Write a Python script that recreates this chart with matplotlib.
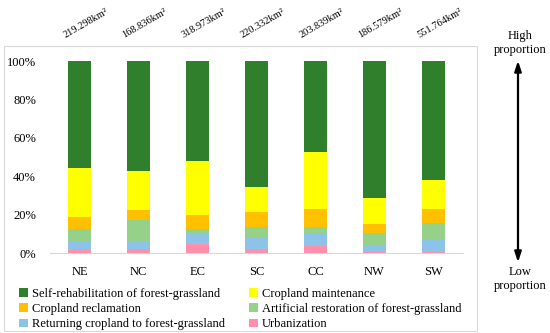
import matplotlib
matplotlib.use("Agg")
import matplotlib.pyplot as plt
from matplotlib.patches import Rectangle, FancyArrowPatch
import numpy as np

plt.rcParams['font.family'] = ['Liberation Serif', 'DejaVu Serif']

regions = ["NE", "NC", "EC", "SC", "CC", "NW", "SW"]
areas = ["219.298km²", "168.836km²", "318.973km²", "220.332km²", "203.839km²", "186.579km²", "551.764km²"]

urbanization = [1.6, 2.2, 5.0, 2.1, 3.8, 0.8, 0.8]
returning = [4.8, 4.0, 5.0, 6.5, 6.6, 3.5, 6.0]
artificial = [6.2, 11.0, 2.6, 5.1, 3.3, 6.1, 8.8]
reclamation = [6.4, 5.2, 7.5, 7.8, 9.3, 4.7, 7.4]
maintenance = [25.2, 20.6, 27.9, 13.1, 29.8, 13.8, 15.1]
self_rehab = [55.8, 57.0, 52.0, 65.4, 47.2, 71.1, 61.9]

series = [
    ("Urbanization", urbanization, "#FF8FAB"),
    ("Returning cropland to forest-grassland", returning, "#8DC3E8"),
    ("Artificial restoration of forest-grassland", artificial, "#96D18A"),
    ("Cropland reclamation", reclamation, "#FFC000"),
    ("Cropland maintenance", maintenance, "#FFFF00"),
    ("Self-rehabilitation of forest-grassland", self_rehab, "#2F7F2C"),
]

W, H = 550, 333
fig = plt.figure(figsize=(W / 100, H / 100), dpi=100)

# outer chart border
fig.patches.append(Rectangle((4 / W, 1 - 331 / H), (477 - 4) / W, (331 - 46) / H,
                             transform=fig.transFigure, fill=False,
                             edgecolor="#D9D9D9", linewidth=0.8))

ax = fig.add_axes([50 / W, 1 - 253.3 / H, (463 - 50) / W, (253.3 - 61) / H])
x = np.arange(len(regions))
bottom = np.zeros(len(regions))
handles = {}
for name, vals, col in series:
    v = np.array(vals)
    b = ax.bar(x, v, 0.4, bottom=bottom, color=col, label=name)
    handles[name] = b
    bottom += v

ax.set_xlim(-0.5, 6.5)
ax.set_ylim(0, 100)
ax.set_yticks([0, 20, 40, 60, 80, 100])
ax.set_yticklabels([f"{t}%" for t in [0, 20, 40, 60, 80, 100]], fontsize=9)
ax.set_xticks(x)
ax.set_xticklabels(regions, fontsize=9)
ax.tick_params(length=0, pad=9)
ax.tick_params(axis='y', pad=10)
for s in ["top", "right", "left"]:
    ax.spines[s].set_visible(False)
ax.spines["bottom"].set_color("#D9D9D9")

for i, a in enumerate(areas):
    ax.annotate(a, xy=(i, 100), xycoords="data", xytext=(4.5, 27), textcoords="offset points",
                rotation=30, ha="center", va="center", fontsize=7.5, annotation_clip=False)

# legend filled column-wise to reproduce row order of the reference
order = ["Self-rehabilitation of forest-grassland", "Cropland reclamation",
         "Returning cropland to forest-grassland", "Cropland maintenance",
         "Artificial restoration of forest-grassland", "Urbanization"]
leg = fig.legend([handles[n] for n in order], order, ncol=2, loc="upper left",
                 bbox_to_anchor=(14 / W, 1 - 283 / H), frameon=False, fontsize=9,
                 handlelength=0.7, handleheight=0.7, handletextpad=0.35,
                 columnspacing=1.9, labelspacing=0.25, borderaxespad=0)

fig.text(520 / W, 1 - 36 / H, "High", ha="center", va="center", fontsize=9)
fig.text(520 / W, 1 - 50 / H, "proportion", ha="center", va="center", fontsize=9)
fig.text(520 / W, 1 - 272 / H, "Low", ha="center", va="center", fontsize=9)
fig.text(520 / W, 1 - 286 / H, "proportion", ha="center", va="center", fontsize=9)
arr = FancyArrowPatch((518 / W, 1 - 58 / H), (518 / W, 1 - 265 / H), transform=fig.transFigure,
                      arrowstyle="<|-|>,head_length=6,head_width=2", color="black",
                      linewidth=1.6, mutation_scale=1)
fig.patches.append(arr)

fig.savefig("out.png", dpi=100)
